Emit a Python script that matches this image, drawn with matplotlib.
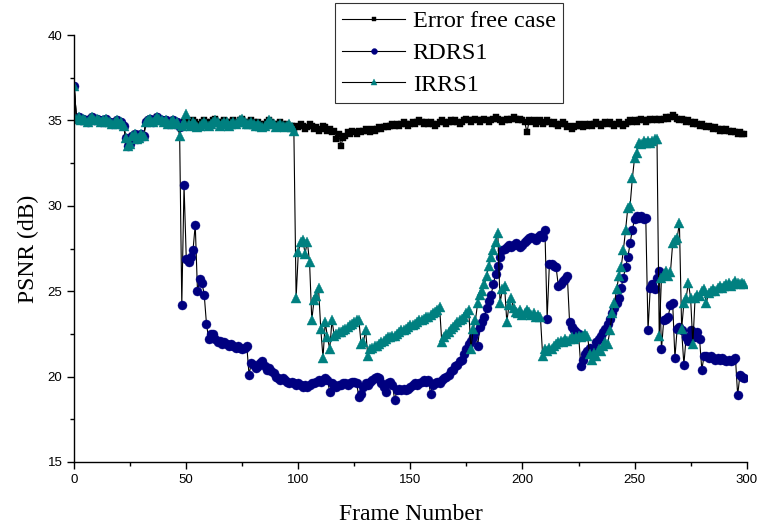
import numpy as np
import matplotlib
matplotlib.use("Agg")
import matplotlib.pyplot as plt
from matplotlib.ticker import MultipleLocator

# PSNR per frame (frames 0..299)
error_free = [
    37.0, 35.1, 35.2, 35.0, 35.1, 35.0, 34.9, 35.1, 35.2, 35.0,
    35.1, 35.0, 34.9, 35.0, 35.1, 34.9, 34.9, 34.8, 34.9, 35.0,
    34.8, 34.9, 34.7, 34.0, 33.5, 33.6, 34.1, 34.2, 33.9, 34.0,
    34.2, 34.1, 34.9, 35.0, 35.1, 34.9, 35.0, 35.2, 35.1, 35.0,
    34.9, 35.0, 34.8, 34.9, 35.0, 34.8, 34.9, 34.8, 34.8, 34.9,
    35.0, 34.9, 34.8, 35.0, 34.9, 34.7, 34.8, 34.9, 35.0, 34.9,
    34.8, 34.9, 35.0, 35.1, 34.9, 34.8, 34.9, 35.0, 34.9, 34.8,
    34.9, 35.0, 34.8, 34.9, 35.0, 35.1, 34.9, 34.8, 34.9, 35.0,
    34.9, 34.8, 34.9, 34.8, 34.7, 34.8, 34.9, 35.0, 34.9, 34.8,
    34.7, 34.8, 34.9, 34.8, 34.7, 34.8, 34.6, 34.7, 34.5, 34.7,
    34.6, 34.8, 34.7, 34.5, 34.6, 34.8, 34.7, 34.5, 34.6, 34.4,
    34.5, 34.7, 34.6, 34.4, 34.5, 34.3, 34.4, 33.9, 34.2, 33.5,
    34.0, 34.1, 34.3, 34.2, 34.4, 34.3, 34.2, 34.4, 34.3, 34.4,
    34.5, 34.4, 34.3, 34.5, 34.4, 34.5, 34.6, 34.5, 34.6, 34.7,
    34.6, 34.7, 34.8, 34.7, 34.8, 34.7, 34.8, 34.9, 34.8, 34.7,
    34.8, 34.9, 34.8, 34.9, 35.0, 34.9, 34.8, 34.9, 34.8, 34.9,
    34.8, 34.7, 34.8, 34.9, 35.0, 34.9, 34.8, 34.9, 35.0, 34.9,
    35.0, 34.9, 34.8, 34.9, 35.0, 35.1, 35.0, 34.9, 35.0, 35.1,
    35.0, 34.9, 35.0, 35.1, 35.0, 34.9, 35.0, 35.1, 35.2, 35.1,
    35.0, 34.9, 35.0, 35.1, 35.0, 35.1, 35.2, 35.1, 35.0, 35.1,
    35.0, 34.9, 34.3, 35.0, 34.9, 35.0, 34.8, 34.9, 35.0, 34.8,
    34.9, 35.0, 34.9, 34.8, 34.9, 34.8, 34.7, 34.8, 34.9, 34.8,
    34.6, 34.7, 34.5, 34.6, 34.7, 34.8, 34.7, 34.6, 34.8, 34.7,
    34.8, 34.7, 34.8, 34.9, 34.8, 34.7, 34.8, 34.9, 34.8, 34.9,
    34.8, 34.7, 34.8, 34.9, 34.8, 34.7, 34.8, 34.9, 35.0, 34.9,
    35.0, 34.9, 35.0, 35.1, 35.0, 34.9, 35.0, 35.1, 35.0, 35.1,
    35.0, 35.1, 35.0, 35.1, 35.2, 35.1, 35.2, 35.3, 35.2, 35.1,
    35.0, 35.1, 35.0, 34.9, 35.0, 34.9, 34.8, 34.9, 34.8, 34.7,
    34.8, 34.7, 34.6, 34.7, 34.6, 34.5, 34.6, 34.5, 34.4, 34.5,
    34.4, 34.5, 34.4, 34.3, 34.4, 34.3, 34.2, 34.3, 34.2, 34.2,
]

rdrs1 = [
    37.0, 35.1, 35.2, 35.0, 35.1, 35.0, 34.9, 35.1, 35.2, 35.0,
    35.1, 35.0, 34.9, 35.0, 35.1, 34.9, 34.9, 34.8, 34.9, 35.0,
    34.8, 34.9, 34.7, 34.0, 33.5, 33.6, 34.1, 34.2, 33.9, 34.0,
    34.2, 34.1, 34.9, 35.0, 35.1, 34.9, 35.0, 35.2, 35.1, 35.0,
    34.9, 35.0, 34.8, 34.9, 35.0, 34.8, 34.9, 34.6, 24.2, 31.2,
    26.9, 26.7, 27.0, 27.4, 28.9, 25.0, 25.7, 25.5, 24.8, 23.1,
    22.2, 22.5, 22.5, 22.2, 22.0, 22.1, 21.9, 22.0, 21.9, 21.8,
    21.9, 21.8, 21.7, 21.8, 21.7, 21.6, 21.7, 21.8, 20.1, 20.8,
    20.7, 20.5, 20.6, 20.8, 20.9, 20.6, 20.4, 20.5, 20.3, 20.2,
    20.0, 19.9, 19.8, 19.9, 19.8, 19.7, 19.6, 19.7, 19.6, 19.5,
    19.6, 19.5, 19.4, 19.5, 19.4, 19.5, 19.6, 19.6, 19.7, 19.8,
    19.7, 19.8, 19.9, 19.8, 19.1, 19.6, 19.5, 19.4, 19.5, 19.5,
    19.6, 19.6, 19.5, 19.6, 19.7, 19.7, 19.6, 18.8, 19.0, 19.4,
    19.6, 19.5, 19.7, 19.8, 19.9, 20.0, 19.9, 19.6, 19.4, 19.1,
    19.6, 19.7, 19.5, 18.6, 19.2, 19.3, 19.2, 19.3, 19.2, 19.3,
    19.4, 19.5, 19.6, 19.5, 19.6, 19.7, 19.8, 19.7, 19.8, 19.0,
    19.5, 19.6, 19.7, 19.6, 19.8, 19.9, 20.0, 20.1, 20.3, 20.4,
    20.6, 20.7, 20.9, 21.0, 21.3, 21.6, 21.9, 22.1, 22.3, 22.6,
    21.8, 22.9, 23.2, 23.5, 24.0, 24.4, 24.8, 25.4, 26.0, 26.5,
    27.0, 27.4, 27.5, 27.6, 27.7, 27.6, 27.7, 27.8, 27.7, 27.6,
    27.7, 27.9, 28.0, 28.1, 28.2, 28.1, 28.0, 28.2, 28.3, 28.2,
    28.6, 23.4, 26.6, 26.6, 26.5, 26.4, 25.3, 25.4, 25.6, 25.7,
    25.9, 23.2, 22.9, 22.7, 22.6, 22.5, 20.6, 21.0, 21.3, 21.5,
    21.7, 21.4, 21.6, 22.0, 22.2, 22.4, 22.6, 22.8, 23.1, 23.4,
    23.7, 24.0, 24.3, 24.6, 25.2, 25.8, 26.4, 27.0, 27.8, 28.6,
    29.2, 29.4, 29.3, 29.4, 29.2, 29.3, 22.7, 25.2, 25.4, 25.1,
    25.8, 26.2, 21.6, 23.3, 23.4, 23.5, 24.2, 24.3, 21.1, 22.8,
    22.9, 22.7, 20.7, 22.3, 22.1, 22.7, 22.5, 22.3, 22.6, 22.2,
    20.4, 21.2, 21.2, 21.1, 21.2, 21.1, 21.0, 21.1, 21.0, 21.1,
    21.0, 20.9, 21.0, 20.9, 21.0, 21.1, 18.9, 20.1, 20.0, 19.9,
]

irrs1 = [
    37.0, 35.1, 35.2, 35.0, 35.1, 35.0, 34.9, 35.1, 35.2, 35.0,
    35.1, 35.0, 34.9, 35.0, 35.1, 34.9, 34.9, 34.8, 34.9, 35.0,
    34.8, 34.9, 34.7, 34.0, 33.5, 33.6, 34.1, 34.2, 33.9, 34.0,
    34.2, 34.1, 34.9, 35.0, 35.1, 34.9, 35.0, 35.2, 35.1, 35.0,
    34.9, 35.0, 34.8, 34.9, 35.0, 34.8, 34.9, 34.1, 34.7, 34.9,
    35.4, 34.8, 34.7, 34.9, 34.8, 34.6, 34.7, 34.8, 34.9, 34.8,
    34.7, 34.8, 34.9, 35.0, 34.9, 34.7, 34.8, 34.9, 34.9, 34.7,
    34.8, 34.9, 34.8, 34.9, 35.0, 35.1, 34.9, 34.8, 34.8, 34.9,
    34.8, 34.7, 34.8, 34.7, 34.6, 34.7, 34.8, 35.0, 34.9, 34.8,
    34.6, 34.7, 34.8, 34.7, 34.6, 34.7, 34.8, 34.6, 34.4, 24.6,
    27.3, 27.9, 28.0, 27.2, 27.9, 26.7, 23.3, 24.5, 24.7, 25.2,
    22.8, 21.1, 23.2, 22.3, 21.6, 23.3, 22.4, 22.5, 22.6, 22.6,
    22.7, 22.8, 22.9, 23.0, 23.1, 23.2, 23.3, 23.3, 21.9, 22.0,
    22.7, 21.2, 21.6, 21.7, 21.8, 21.8, 21.9, 22.0, 22.1, 22.2,
    22.3, 22.3, 22.4, 22.4, 22.5, 22.6, 22.7, 22.7, 22.8, 22.9,
    23.0, 23.0, 23.1, 23.2, 23.3, 23.3, 23.4, 23.5, 23.5, 23.6,
    23.7, 23.8, 23.9, 24.1, 22.0, 22.3, 22.5, 22.6, 22.8, 22.9,
    23.0, 23.2, 23.3, 23.4, 23.5, 23.7, 23.9, 21.6, 22.8, 23.3,
    24.3, 24.8, 25.0, 25.4, 25.9, 26.5, 27.0, 27.4, 27.9, 28.4,
    24.3, 25.1, 25.3, 23.2, 24.2, 24.6, 24.0, 23.8, 23.7, 23.9,
    23.6, 23.7, 23.9, 23.8, 23.6, 23.7, 23.5, 23.6, 23.5, 21.2,
    21.6, 21.5, 21.7, 21.6, 21.8, 21.9, 22.0, 22.1, 22.0, 22.2,
    22.1, 22.2, 22.3, 22.2, 22.3, 22.4, 22.3, 22.4, 22.5, 22.4,
    21.3, 21.0, 21.4, 21.2, 21.6, 21.5, 21.8, 22.0, 21.9, 22.7,
    23.7, 24.3, 25.1, 25.9, 26.4, 27.4, 28.6, 29.9, 30.0, 31.6,
    32.8, 33.1, 33.7, 33.6, 33.8, 33.7, 33.8, 33.7, 33.8, 33.9,
    33.9, 22.4, 25.8, 26.0, 26.2, 25.9, 26.1, 27.8, 28.0, 28.1,
    29.0, 22.8, 24.3, 24.6, 25.5, 24.6, 21.9, 24.6, 24.8, 24.7,
    25.0, 25.1, 24.3, 24.9, 25.0, 25.1, 25.0, 25.2, 25.3, 25.2,
    25.3, 25.4, 25.5, 25.3, 25.4, 25.6, 25.5, 25.4, 25.5, 25.4,
]

frames = np.arange(len(error_free))

series = [
    ("Error free case", error_free, "s", "black", 4.5),
    ("RDRS1", rdrs1, "o", "#000080", 6.5),
    ("IRRS1", irrs1, "^", "#008080", 7.0),
]

fig = plt.figure(figsize=(7.65, 5.31), dpi=100)
ax = fig.add_axes([0.097, 0.130, 0.879, 0.804])

for name, vals, mk, col, ms in series:
    ax.plot(frames, vals, color="black", linewidth=0.8, marker=mk,
            markersize=ms, markerfacecolor=col, markeredgecolor=col,
            markeredgewidth=0.3, label=name)

ax.set_xlim(0, 300)
ax.set_ylim(15, 40)
ax.xaxis.set_major_locator(MultipleLocator(50))
ax.xaxis.set_minor_locator(MultipleLocator(25))
ax.yaxis.set_major_locator(MultipleLocator(5))
ax.yaxis.set_minor_locator(MultipleLocator(2.5))

for side in ("top", "right"):
    ax.spines[side].set_visible(False)
for side in ("left", "bottom"):
    ax.spines[side].set_linewidth(1.0)

ax.tick_params(which="major", direction="out", length=5, width=1.0,
               labelsize=9.5)
ax.tick_params(which="minor", direction="out", length=3, width=1.0)
for lab in ax.get_xticklabels() + ax.get_yticklabels():
    lab.set_fontfamily("Liberation Sans")

ax.set_xlabel("Frame Number", family="Liberation Serif", fontsize=17,
              labelpad=13)
ax.set_ylabel("PSNR (dB)", family="Liberation Serif", fontsize=17,
              labelpad=6)

leg = ax.legend(loc="upper left", bbox_to_anchor=(335 / 765, 1 - 3 / 531),
                bbox_transform=fig.transFigure, frameon=True, fancybox=False,
                markerscale=0.65, handlelength=2.6, handletextpad=0.3,
                borderpad=0.3, labelspacing=0.4, borderaxespad=0,
                prop={"family": "Liberation Serif", "size": 17.5})
leg.get_frame().set_edgecolor("black")
leg.get_frame().set_linewidth(0.8)

fig.savefig("out.png", dpi=100, facecolor="white")
